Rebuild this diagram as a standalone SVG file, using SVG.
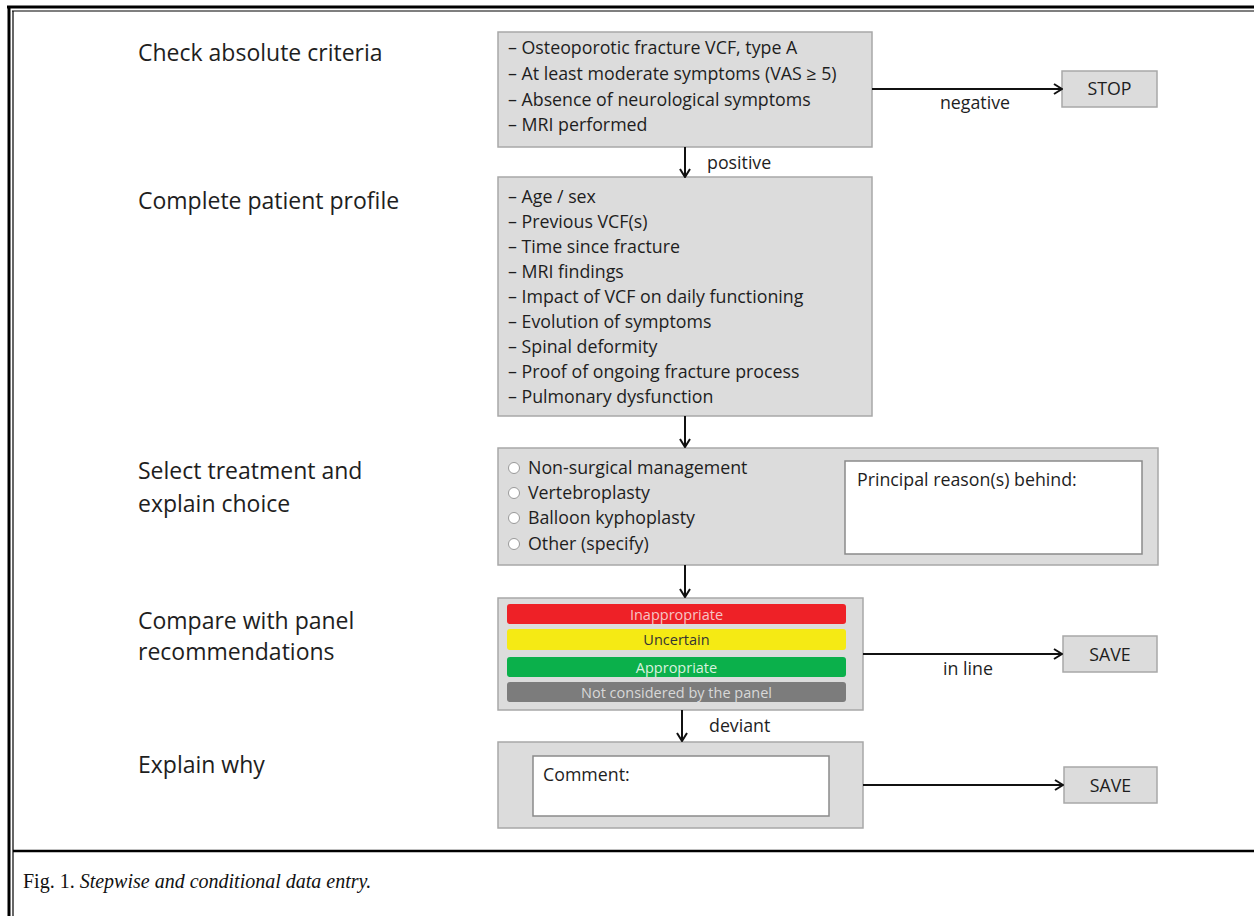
<svg xmlns="http://www.w3.org/2000/svg" width="1254" height="916" viewBox="0 0 1254 916">
<defs>
<marker id="arr" viewBox="0 0 12 12" refX="11" refY="6" markerWidth="12" markerHeight="12" markerUnits="userSpaceOnUse" orient="auto">
<path d="M3,1 L11,6 L3,11" fill="none" stroke="#111" stroke-width="2"/>
</marker>
<style>
.box{fill:#dcdcdc;stroke:#a8a8a8;stroke-width:1.5}
.inner{fill:#fff;stroke:#8a8a8a;stroke-width:1.5}
.t{font-family:"Open Sans",Lato,"Liberation Sans",sans-serif;font-size:17.8px;fill:#1e1e1e}
.lab{font-family:"Open Sans",Lato,"Liberation Sans",sans-serif;font-size:23px;fill:#1e1e1e}
.bt{font-family:"Open Sans",Lato,"Liberation Sans",sans-serif;font-size:14.5px;text-anchor:middle}
.con{stroke:#111;stroke-width:2;fill:none;marker-end:url(#arr)}
.radio{fill:#fff;stroke:#999;stroke-width:1}
</style>
</defs>
<rect width="1254" height="916" fill="#fff"/>
<g id="frame">
<line x1="7" y1="7" x2="1254" y2="7" stroke="#000" stroke-width="3"/>
<line x1="12" y1="11" x2="1254" y2="11" stroke="#000" stroke-width="1.2"/>
<line x1="9" y1="6" x2="9" y2="916" stroke="#000" stroke-width="3"/>
<line x1="13" y1="11" x2="13" y2="916" stroke="#000" stroke-width="1.2"/>
<line x1="13" y1="851" x2="1254" y2="851" stroke="#000" stroke-width="2.5"/>
</g>
<g id="labels">
<text class="lab" x="138" y="61">Check absolute criteria</text>
<text class="lab" x="138" y="209">Complete patient profile</text>
<text class="lab" x="138" y="479">Select treatment and</text>
<text class="lab" x="138" y="512">explain choice</text>
<text class="lab" x="138" y="629">Compare with panel</text>
<text class="lab" x="138" y="660">recommendations</text>
<text class="lab" x="138" y="773">Explain why</text>
</g>
<g id="criteria">
<rect class="box" x="498" y="32" width="374" height="115"/>
<text class="t" x="508" y="54">– Osteoporotic fracture VCF, type A</text>
<text class="t" x="508" y="80">– At least moderate symptoms (VAS ≥ 5)</text>
<text class="t" x="508" y="106">– Absence of neurological symptoms</text>
<text class="t" x="508" y="131">– MRI performed</text>
</g>
<g id="stop">
<rect class="box" x="1062" y="71" width="95" height="36"/>
<text class="t" x="1109.5" y="95" text-anchor="middle">STOP</text>
</g>
<g id="profile">
<rect class="box" x="498" y="177" width="374" height="239"/>
<text class="t" x="508" y="203">– Age / sex</text>
<text class="t" x="508" y="228">– Previous VCF(s)</text>
<text class="t" x="508" y="253">– Time since fracture</text>
<text class="t" x="508" y="278">– MRI findings</text>
<text class="t" x="508" y="303">– Impact of VCF on daily functioning</text>
<text class="t" x="508" y="328">– Evolution of symptoms</text>
<text class="t" x="508" y="353">– Spinal deformity</text>
<text class="t" x="508" y="378">– Proof of ongoing fracture process</text>
<text class="t" x="508" y="403">– Pulmonary dysfunction</text>
</g>
<g id="treatment">
<rect class="box" x="498" y="448" width="660" height="117"/>
<circle class="radio" cx="514" cy="468" r="5.5"/>
<circle class="radio" cx="514" cy="493" r="5.5"/>
<circle class="radio" cx="514" cy="518" r="5.5"/>
<circle class="radio" cx="514" cy="544" r="5.5"/>
<text class="t" x="528" y="474">Non-surgical management</text>
<text class="t" x="528" y="499">Vertebroplasty</text>
<text class="t" x="528" y="524">Balloon kyphoplasty</text>
<text class="t" x="528" y="550">Other (specify)</text>
<rect class="inner" x="845" y="461" width="297" height="93"/>
<text class="t" x="857" y="486">Principal reason(s) behind:</text>
</g>
<g id="compare">
<rect class="box" x="498" y="598" width="365" height="112"/>
<rect x="507" y="604" width="339" height="20" rx="3" fill="#ee2127"/>
<rect x="507" y="629" width="339" height="21" rx="3" fill="#f5ea14"/>
<rect x="507" y="657" width="339" height="20" rx="3" fill="#0bb04b"/>
<rect x="507" y="682" width="339" height="20" rx="3" fill="#7c7c7c"/>
<text class="bt" x="676.5" y="619.5" fill="#f6c5c5">Inappropriate</text>
<text class="bt" x="676.5" y="645" fill="#333">Uncertain</text>
<text class="bt" x="676.5" y="672.5" fill="#d8f2df">Appropriate</text>
<text class="bt" x="676.5" y="697.5" fill="#d8d8d8">Not considered by the panel</text>
</g>
<g id="save1">
<rect class="box" x="1063" y="636" width="94" height="36"/>
<text class="t" x="1110" y="661" text-anchor="middle">SAVE</text>
</g>
<g id="explain">
<rect class="box" x="498" y="742" width="365" height="86"/>
<rect class="inner" x="533" y="756" width="296" height="60"/>
<text class="t" x="543" y="781">Comment:</text>
</g>
<g id="save2">
<rect class="box" x="1064" y="767" width="93" height="36"/>
<text class="t" x="1110.5" y="792" text-anchor="middle">SAVE</text>
</g>
<g id="connectors">
<line class="con" x1="685" y1="147" x2="685" y2="177"/>
<text class="t" x="707" y="169">positive</text>
<line class="con" x1="872" y1="89" x2="1062" y2="89"/>
<text class="t" x="975" y="109" text-anchor="middle">negative</text>
<line class="con" x1="685" y1="416" x2="685" y2="447"/>
<line class="con" x1="685" y1="565" x2="685" y2="597"/>
<line class="con" x1="863" y1="654" x2="1062" y2="654"/>
<text class="t" x="968" y="675" text-anchor="middle">in line</text>
<line class="con" x1="682" y1="710" x2="682" y2="741"/>
<text class="t" x="709" y="732">deviant</text>
<line class="con" x1="863" y1="785" x2="1063" y2="785"/>
</g>
<g id="caption">
<text x="23" y="888" font-family="'Liberation Serif',serif" font-size="20" fill="#111">Fig. 1. <tspan font-style="italic">Stepwise and conditional data entry.</tspan></text>
</g>
</svg>
